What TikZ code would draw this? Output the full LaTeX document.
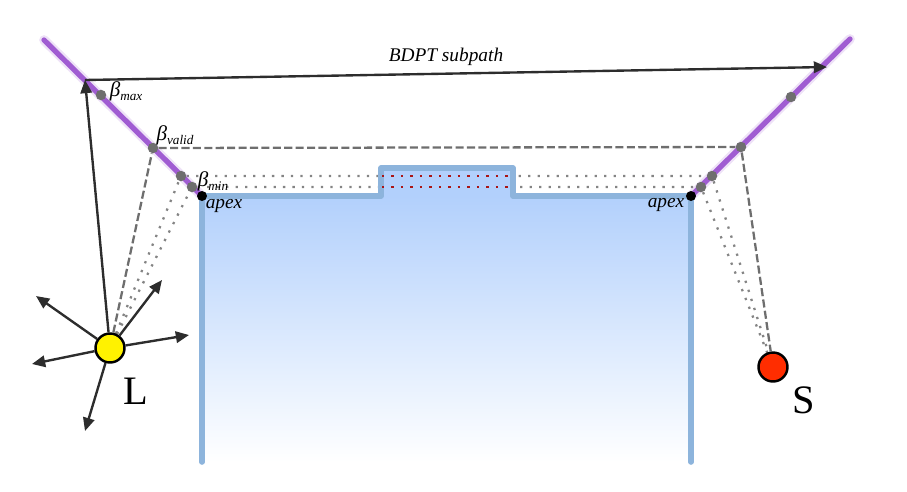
\documentclass[tikz,border=0pt]{standalone}
\usepackage{fontspec}
\setmainfont{Liberation Serif}
\usetikzlibrary{arrows.meta,backgrounds}

\definecolor{wallblue}{RGB}{141,180,220}
\definecolor{fillblue}{RGB}{178,208,252}
\definecolor{mirror}{RGB}{160,92,210}
\definecolor{pathgray}{RGB}{110,110,110}
\definecolor{raygray}{RGB}{45,45,45}
\definecolor{reddot}{RGB}{170,20,20}
\definecolor{srcred}{RGB}{255,45,0}

\newcommand{\betalab}[1]{{\fontsize{12}{12}\selectfont β}\raisebox{-0.5ex}{\fontsize{7.5}{8}\selectfont #1}}

\tikzset{
  wall/.style={line width=3.2pt,color=wallblue,line cap=round,line join=round},
  mirrorline/.style={line width=3pt,color=mirror,line cap=round},
  mirrorglow/.style={line width=5.5pt,color=mirror,opacity=0.18,line cap=round},
  betadot/.style={circle,fill=pathgray,inner sep=0pt,minimum size=0.21cm},
  apexdot/.style={circle,fill=black,inner sep=0pt,minimum size=0.2cm},
  lamp/.style={circle,draw=black,line width=1.4pt,inner sep=0pt,minimum size=0.58cm},
  ray/.style={line width=1.35pt,color=raygray,-{Stealth[inset=0pt,length=7.5pt,width=6.5pt]}},
  dashpath/.style={line width=1.3pt,color=pathgray,dash pattern=on 4.6pt off 1.9pt},
  dotpath/.style={line width=1.3pt,color=pathgray!85,dash pattern=on 1.3pt off 4.1pt},
  reddots/.style={line width=1.3pt,color=reddot,dash pattern=on 1.3pt off 4.1pt},
  lab/.style={inner sep=0pt,font=\fontsize{11}{13}\selectfont\itshape},
  biglab/.style={inner sep=0pt,font=\fontsize{23}{25}\selectfont}
}

\begin{document}
\begin{tikzpicture}[x=0.02cm,y=-0.02cm]
  \useasboundingbox (0,0) rectangle (907,491);

  \coordinate (mirrorLtop) at (44,40);
  \coordinate (mirrorRtop) at (850,39);
  \coordinate (subStart) at (85,80);
  \coordinate (subEnd) at (827,67);
  \coordinate (rayA) at (36,296);
  \coordinate (rayB) at (32,364);
  \coordinate (rayC) at (85,431);
  \coordinate (rayD) at (189,335);
  \coordinate (rayE) at (162,280);
  \coordinate (redAl) at (382,176);
  \coordinate (redAr) at (509,176);
  \coordinate (redBl) at (382,187);
  \coordinate (redBr) at (509,187);

  \node [apexdot] (apexL) at (202,196) {};
  \node [apexdot] (apexR) at (691,196) {};
  \node [betadot] (bmaxL) at (101,95) {};
  \node [betadot] (bvalidL) at (153,148) {};
  \node [betadot] (btopL) at (181,176) {};
  \node [betadot] (bminL) at (192,187) {};
  \node [betadot] (bmaxR) at (791,97) {};
  \node [betadot] (bvalidR) at (741,147) {};
  \node [betadot] (btopR) at (712,176) {};
  \node [betadot] (bminR) at (701,187) {};
  \node [lamp,fill=yellow] (L) at (110,348) {};
  \node [lamp,fill=srcred] (S) at (773,367) {};

  \begin{scope}[on background layer]
    \draw [dotpath] (L) -- (btopL) -- (btopR) -- (S);
    \draw [dotpath] (L) -- (bminL) -- (bminR) -- (S);

    \shade [top color=fillblue,bottom color=white] (202,196) rectangle (691,462);
    \fill [fillblue] (381,168) rectangle (513,196);
    \draw [wall] (202,462) -- (apexL.center) -- (381,196) -- (381,168) -- (513,168) -- (513,196) -- (apexR.center) -- (691,462);

    \draw [mirrorglow] (mirrorLtop) -- (apexL.center);
    \draw [mirrorglow] (mirrorRtop) -- (apexR.center);
    \draw [mirrorline] (mirrorLtop) -- (apexL.center);
    \draw [mirrorline] (mirrorRtop) -- (apexR.center);
  \end{scope}

  \draw [reddots] (redAl) -- (redAr);
  \draw [reddots] (redBl) -- (redBr);

  \draw [dashpath] (L) -- (bvalidL) -- (bvalidR) -- (S);

  \draw [ray] (subStart) -- (subEnd);
  \draw [ray] (L) -- (subStart);
  \draw [ray] (L) -- (rayA);
  \draw [ray] (L) -- (rayB);
  \draw [ray] (L) -- (rayC);
  \draw [ray] (L) -- (rayD);
  \draw [ray] (L) -- (rayE);

  \node [lab] (subLabel) at (446,57) {BDPT subpath};
  \node [lab] (maxLabel) at (126,91) {\betalab{max}};
  \node [lab] (validLabel) at (175,135) {\betalab{valid}};
  \node [lab] (minLabel) at (213,181) {\betalab{min}};
  \node [lab] (apexLabelL) at (224,206) {apex};
  \node [lab] (apexLabelR) at (666,205) {apex};
  \node [biglab] (Llabel) at (136,391) {L};
  \node [biglab] (Slabel) at (804,400) {S};
\end{tikzpicture}
\end{document}
